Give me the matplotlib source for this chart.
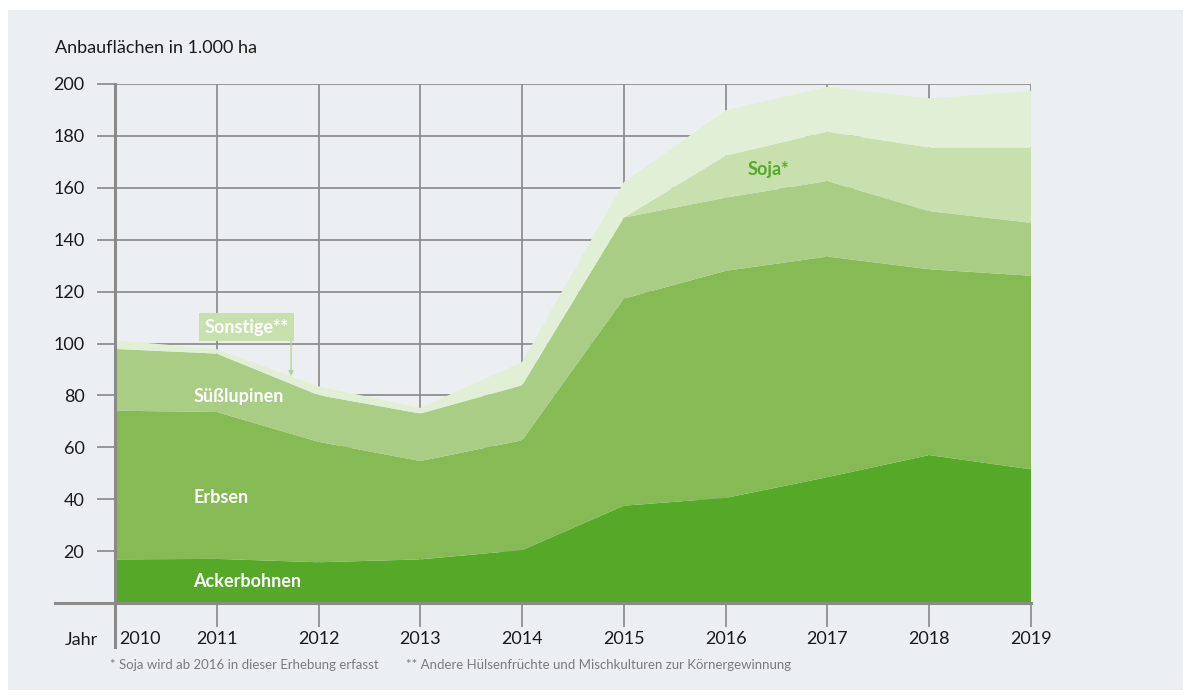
import matplotlib
matplotlib.use("Agg")
import matplotlib.pyplot as plt
from matplotlib.patches import Rectangle
from matplotlib.lines import Line2D
import matplotlib.transforms as mtransforms

plt.rcParams['font.family'] = ['Lato', 'DejaVu Sans']

years = [2010, 2011, 2012, 2013, 2014, 2015, 2016, 2017, 2018, 2019]
ackerbohnen = [16.8, 17.0, 15.7, 16.8, 20.4, 37.5, 40.5, 48.5, 57.0, 51.5]
erbsen = [57.3, 56.6, 46.4, 37.9, 42.3, 79.8, 87.5, 85.0, 71.6, 74.6]
suesslupinen = [23.8, 22.5, 18.0, 18.3, 21.2, 31.2, 28.2, 29.1, 22.4, 20.4]
soja = [0, 0, 0, 0, 0, 0, 16.2, 19.0, 24.5, 29.0]
sonstige = [3.4, 1.7, 3.4, 2.2, 9.0, 13.7, 17.5, 17.3, 19.0, 21.8]

series_labels = ["Ackerbohnen", "Erbsen", "Süßlupinen", "Soja*", "Sonstige**"]
colors = ["#56a928", "#86ba55", "#a9cd84", "#c7e0ae", "#e2efd7"]
yticks = [20, 40, 60, 80, 100, 120, 140, 160, 180, 200]

W, H = 1191, 695
fig = plt.figure(figsize=(W / 100, H / 100), dpi=100)
fig.patch.set_facecolor("white")
fig.patches.append(Rectangle((8 / W, 5 / H), (1183 - 8) / W, (685 - 5) / H,
                             transform=fig.transFigure, facecolor="#eceff2",
                             edgecolor="none", zorder=-10))

x0, x1 = 115, 1031
y0, y1 = 603, 84
ax = fig.add_axes([x0 / W, (H - y0) / H, (x1 - x0) / W, (y0 - y1) / H])
ax.set_facecolor("none")
ax.set_xlim(2010, 2019)
ax.set_ylim(0, 200)

grid_c = "#8f8f8f"
ax.stackplot(years, ackerbohnen, erbsen, suesslupinen, soja, sonstige,
             colors=colors, linewidth=0, zorder=3)

# gridlines
for yv in yticks:
    ax.axhline(yv, color=grid_c, lw=1.3, zorder=1)
for xv in years[1:]:
    ax.axvline(xv, color=grid_c, lw=1.3, zorder=1)

ax.set_yticks(yticks)
ax.set_yticklabels([str(v) for v in yticks])
ax.set_xticks(years)
ax.set_xticklabels([str(y) for y in years])
ax.tick_params(axis="y", length=13, width=1.3, color=grid_c, pad=9,
               labelsize=13, labelcolor="#1a1a1a")
ax.tick_params(axis="x", length=17, width=1.3, color=grid_c, pad=3,
               labelsize=13, labelcolor="#1a1a1a")
xt = ax.get_xticklabels()
xt[0].set_horizontalalignment("left")
offset = mtransforms.ScaledTranslation(4 / 100, 0, fig.dpi_scale_trans)
xt[0].set_transform(xt[0].get_transform() + offset)

for s in ax.spines.values():
    s.set_visible(False)

# x-axis line (extends left) and left axis line (extends down)
fig.add_artist(Line2D([55 / W, x1 / W], [(H - y0) / H] * 2, color="#8a8a8a",
                      lw=2.2, zorder=5))
fig.add_artist(Line2D([x0 / W] * 2, [(H - 647) / H, (H - y1) / H], color="#8a8a8a",
                      lw=2.2, zorder=5))

fig.text(55 / W, (H - 48) / H, "Anbauflächen in 1.000 ha", fontsize=13,
         color="#1a1a1a", va="center", ha="left")
fig.text(65 / W, (H - 640) / H, "Jahr", fontsize=13, color="#1a1a1a",
         va="center", ha="left")

# series labels
lab_kw = dict(color="white", fontsize=13, fontweight="bold", va="center",
              ha="left", zorder=6)
ax.text(2010.77, 8.1, series_labels[0], **lab_kw)
ax.text(2010.77, 40.8, series_labels[1], **lab_kw)
ax.text(2010.77, 79.7, series_labels[2], **lab_kw)
ax.text(2016.42, 167.1, series_labels[3], color="#56a928", fontsize=13,
        fontweight="bold", va="center", ha="center", zorder=6)
ax.text(2011.29, 106.3, series_labels[4], color="white", fontsize=13,
        fontweight="bold", va="center", ha="center", zorder=7,
        bbox=dict(boxstyle="square,pad=0.3", facecolor="#c7e0ae", edgecolor="none"))
ax.annotate("", xy=(2011.73, 87.4), xytext=(2011.73, 101.0),
            arrowprops=dict(arrowstyle="-|>", color="#b3d49a", lw=1.0,
                            mutation_scale=7, shrinkA=0, shrinkB=0), zorder=6)

fig.text(110 / W, (H - 665) / H, "* Soja wird ab 2016 in dieser Erhebung erfasst",
         fontsize=9.5, color="#7a7a7a", va="center", ha="left")
fig.text(406 / W, (H - 665) / H,
         "** Andere Hülsenfrüchte und Mischkulturen zur Körnergewinnung",
         fontsize=9.5, color="#7a7a7a", va="center", ha="left")

fig.savefig("out.png", dpi=100, facecolor=fig.get_facecolor())
